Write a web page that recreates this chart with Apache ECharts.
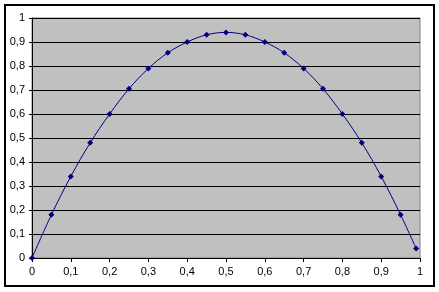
<!DOCTYPE html>
<html><head><meta charset="utf-8">
<script src="https://cdn.jsdelivr.net/npm/echarts@6/dist/echarts.min.js"></script>
<style>html,body{margin:0;padding:0;background:#fff}#c{width:439px;height:292px}</style>
</head><body><div id="c"></div>
<script>
var xValues = [0, 0.05, 0.1, 0.15, 0.2, 0.25, 0.3, 0.35, 0.4, 0.45, 0.5, 0.55, 0.6, 0.65, 0.7, 0.75, 0.8, 0.85, 0.9, 0.95, 0.99];
var yValues = [0, 0.18, 0.34, 0.48, 0.60, 0.705, 0.79, 0.855, 0.90, 0.93, 0.94, 0.93, 0.90, 0.855, 0.79, 0.705, 0.60, 0.48, 0.34, 0.18, 0.04];
var fmt = function (v) { return String(Math.round(v * 10) / 10).replace('.', ','); };
var pts = xValues.map(function (x, i) { return [x, yValues[i]]; });
var chart = echarts.init(document.getElementById('c'), null, {renderer: 'canvas'});
chart.setOption({
  animation: false,
  graphic: [{type: 'rect', shape: {x: 5, y: 5, width: 429, height: 281}, style: {fill: null, stroke: '#000', lineWidth: 2}, z: 100}],
  grid: {left: 32, right: 19, top: 18, bottom: 34, show: true, backgroundColor: '#c0c0c0', borderColor: '#808080', borderWidth: 1},
  xAxis: {type: 'value', min: 0, max: 1, interval: 0.1,
    axisLine: {lineStyle: {color: '#000', width: 1}},
    axisTick: {show: true, length: 4, lineStyle: {color: '#000'}},
    splitLine: {show: false},
    axisLabel: {formatter: fmt, color: '#000', fontFamily: 'Liberation Sans, Arial', fontSize: 11, margin: 8}},
  yAxis: {type: 'value', min: 0, max: 1, interval: 0.1,
    axisLine: {show: true, lineStyle: {color: '#000', width: 1}},
    axisTick: {show: true, length: 3, lineStyle: {color: '#000'}},
    splitLine: {show: true, lineStyle: {color: '#000', width: 1}},
    axisLabel: {formatter: fmt, color: '#000', fontFamily: 'Liberation Sans, Arial', fontSize: 11, margin: 7}},
  series: [{type: 'line', data: pts, smooth: 0.35, symbol: 'diamond', symbolSize: 6,
    itemStyle: {color: '#000080'}, lineStyle: {color: '#000080', width: 1}}]
});
</script></body></html>
